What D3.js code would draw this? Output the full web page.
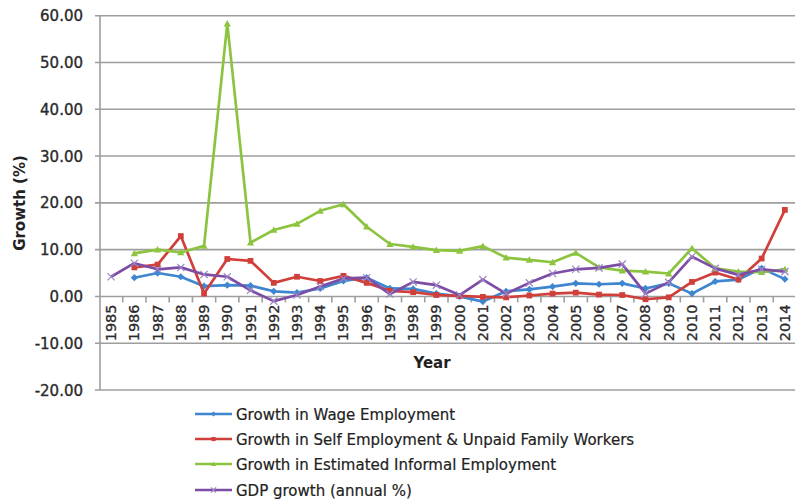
<!DOCTYPE html>
<html><head><meta charset="utf-8">
<script src="https://cdn.jsdelivr.net/npm/d3@7"></script>
<style>
html,body{margin:0;padding:0;background:#fff;}
svg text{font-family:"DejaVu Sans",sans-serif;}
</style></head>
<body><svg id="c" width="795" height="501"></svg>
<script>
const years = [1985,1986,1987,1988,1989,1990,1991,1992,1993,1994,1995,1996,1997,1998,1999,2000,2001,2002,2003,2004,2005,2006,2007,2008,2009,2010,2011,2012,2013,2014];
const yTicks = [-20,-10,0,10,20,30,40,50,60];
const wage = [null,4.0,5.0,4.2,2.2,2.4,2.3,1.1,0.8,1.7,3.3,4.0,1.7,1.6,0.6,0.0,-1.1,1.1,1.5,2.1,2.8,2.6,2.8,1.7,2.8,0.6,3.2,3.6,6.0,3.7];
const selfEmp = [null,6.2,6.8,12.9,0.6,8.0,7.6,2.9,4.2,3.3,4.4,2.9,1.2,0.9,0.3,0.1,-0.1,-0.2,0.2,0.6,0.8,0.4,0.3,-0.6,-0.2,3.1,5.1,3.6,8.1,18.5];
const informal = [null,9.2,10.0,9.4,10.8,58.3,11.5,14.2,15.5,18.3,19.7,14.9,11.2,10.6,9.9,9.75,10.75,8.3,7.8,7.3,9.3,6.2,5.5,5.3,4.9,10.3,6.0,5.3,5.2,5.8];
const gdp = [4.2,7.1,5.8,6.2,4.7,4.2,1.3,-1.0,0.3,2.1,3.85,4.0,0.5,3.1,2.4,0.3,3.6,0.6,2.9,4.9,5.8,6.1,6.9,0.6,3.0,8.5,6.0,4.6,5.8,5.3];
const seriesNames = ["Growth in Wage Employment","Growth in Self Employment & Unpaid Family Workers","Growth in Estimated Informal Employment","GDP growth (annual %)"];
const seriesColors = ["#3E86D0","#D03F3A","#8CC43F","#7D4DA5"];
const seriesMarkers = ["diamond","square","triangle","cross"];
const seriesData = [wage, selfEmp, informal, gdp];

const svg = d3.select("#c");
const x = d3.scaleBand().domain(years).range([99.5, 796.5]).padding(0);
const y = d3.scaleLinear().domain([-20,60]).range([390, 15.7]);
const grid = "#9e9e9e";
const txt = "#2a2a2a";

svg.append("g").selectAll("line").data(yTicks).join("line")
  .attr("x1",95).attr("x2",796.5)
  .attr("y1",d=>y(d)).attr("y2",d=>y(d))
  .attr("stroke",grid).attr("stroke-width",1.6);
svg.append("line").attr("x1",100).attr("x2",100).attr("y1",y(60)).attr("y2",y(-20))
  .attr("stroke",grid).attr("stroke-width",1.6);
svg.append("g").selectAll("text").data(yTicks).join("text")
  .attr("x",83).attr("y",d=>y(d)+5.5).attr("text-anchor","end")
  .attr("font-size",15).attr("fill",txt).attr("stroke",txt).attr("stroke-width",0.35)
  .text(d=>d3.format(".2f")(d).replace("\u2212","-"));
const bounds = years.map(d=>x(d)).concat([x(years[years.length-1])+x.bandwidth()]);
svg.append("g").selectAll("line").data(bounds.slice(1)).join("line")
  .attr("x1",d=>d).attr("x2",d=>d).attr("y1",y(0)).attr("y2",y(0)+6)
  .attr("stroke",grid).attr("stroke-width",1.6);
svg.append("g").selectAll("text").data(years).join("text")
  .attr("transform",d=>`translate(${x(d)+x.bandwidth()/2+5},${y(0)+8}) rotate(-90)`)
  .attr("text-anchor","end").attr("font-size",14.5).attr("fill",txt).attr("stroke",txt).attr("stroke-width",0.3)
  .text(d=>d);
svg.append("text").attr("x",432).attr("y",368).attr("text-anchor","middle")
  .attr("font-size",15).attr("font-weight","bold").attr("fill","#222").text("Year");
svg.append("text").attr("transform","translate(25,203) rotate(-90)").attr("text-anchor","middle")
  .attr("font-size",15).attr("font-weight","bold").attr("fill","#222").text("Growth  (%)");

function marker(g, type, color, size){
  const s = size;
  if(type==="diamond") g.append("path").attr("d",`M0,${-s}L${s},0L0,${s}L${-s},0Z`).attr("fill",color);
  else if(type==="square") g.append("rect").attr("x",-s*0.8).attr("y",-s*0.8).attr("width",s*1.6).attr("height",s*1.6).attr("fill",color);
  else if(type==="triangle") g.append("path").attr("d",`M0,${-s}L${s},${s*0.8}L${-s},${s*0.8}Z`).attr("fill",color);
  else g.append("path").attr("d",`M${-s},${-s}L${s},${s}M${-s},${s}L${s},${-s}`).attr("stroke","#9a86c6").attr("stroke-width",1.2);
}

const cx = d=>x(d)+x.bandwidth()/2;
seriesData.forEach((vals,i)=>{
  const pts = years.map((yr,j)=>({yr,v:vals[j]})).filter(p=>p.v!==null);
  const line = d3.line().x(p=>cx(p.yr)).y(p=>y(p.v));
  svg.append("path").datum(pts).attr("d",line).attr("fill","none")
    .attr("stroke",seriesColors[i]).attr("stroke-width",2.7).attr("stroke-linejoin","round");
  const mg = svg.append("g");
  pts.forEach(p=>{
    const g = mg.append("g").attr("transform",`translate(${cx(p.yr)},${y(p.v)})`);
    marker(g, seriesMarkers[i], seriesColors[i], 3.6);
  });
});

const ly = [414,439,464,490];
seriesNames.forEach((n,i)=>{
  const g = svg.append("g").attr("transform",`translate(0,${ly[i]})`);
  g.append("line").attr("x1",195).attr("x2",232).attr("y1",0).attr("y2",0)
    .attr("stroke",seriesColors[i]).attr("stroke-width",2.6);
  const m = g.append("g").attr("transform","translate(213.5,0)");
  marker(m, seriesMarkers[i], seriesColors[i], 2.6);
  g.append("text").attr("x",236).attr("y",5.5).attr("font-size",15).attr("fill","#222")
    .attr("stroke","#222").attr("stroke-width",0.2).text(n);
});
</script></body></html>
